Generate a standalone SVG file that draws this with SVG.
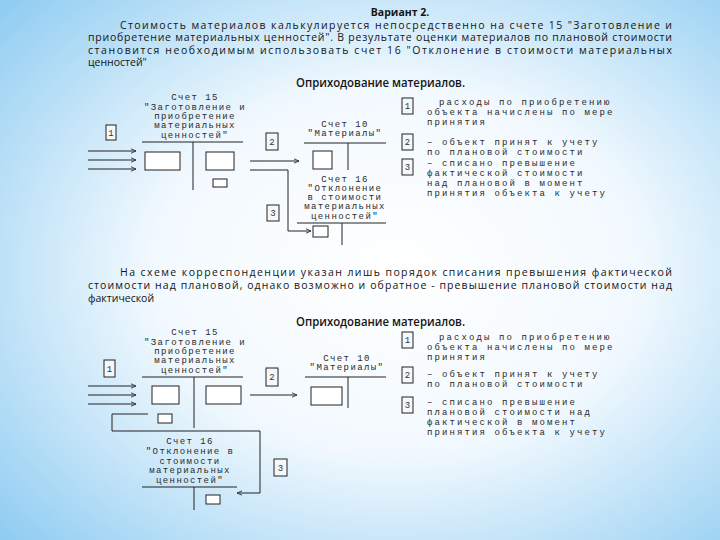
<svg xmlns="http://www.w3.org/2000/svg" width="720" height="540" viewBox="0 0 720 540">
<defs>
<radialGradient id="bg" cx="0.55" cy="0.5" r="0.75">
<stop offset="0" stop-color="#ffffff"/>
<stop offset="0.45" stop-color="#f2f9fe"/>
<stop offset="1" stop-color="#8ccbf1"/>
</radialGradient>
<marker id="arr" viewBox="0 0 6 6" refX="5.5" refY="3" markerWidth="6" markerHeight="6" orient="auto" markerUnits="userSpaceOnUse">
<path d="M0.5,0.8 L5.5,3 L0.5,5.2" fill="none" stroke="#333" stroke-width="0.9"/>
</marker>
<style>
.body{font-family:"Open Sans","Liberation Sans",sans-serif;font-size:10.5px;fill:#151515}
.bold{font-weight:bold}
.head{font-family:"Open Sans","Liberation Sans",sans-serif;font-size:12px;font-weight:600;fill:#151515}
.mono{font-family:"Liberation Mono","DejaVu Sans Mono",monospace;font-size:9px;fill:#2a2a2a;letter-spacing:1.4px}
.mc{text-anchor:middle}
.leg{font-family:"Liberation Mono","DejaVu Sans Mono",monospace;font-size:9px;fill:#2a2a2a;letter-spacing:2.1px}
.num{font-family:"Liberation Mono","DejaVu Sans Mono",monospace;font-size:9px;fill:#333;text-anchor:middle}
.ln{fill:none;stroke:#222;stroke-width:1}
.bx{fill:#ffffff;stroke:#222;stroke-width:1}
.nb{fill:#f4f8fb;stroke:#222;stroke-width:1}
</style>
</defs>
<rect x="0" y="0" width="720" height="540" fill="url(#bg)"/>

<g id="intro">
<text class="body bold" x="400" y="15.5" text-anchor="middle">Вариант 2.</text>
<text class="body" x="120" y="28.5" textLength="552" lengthAdjust="spacing">Стоимость материалов калькулируется непосредственно на счете 15 "Заготовление и</text>
<text class="body" x="88" y="41" textLength="584" lengthAdjust="spacing">приобретение материальных ценностей". В результате оценки материалов по плановой стоимости</text>
<text class="body" x="88" y="53.5" textLength="584" lengthAdjust="spacing">становится необходимым использовать счет 16 "Отклонение в стоимости материальных</text>
<text class="body" x="88" y="66">ценностей"</text>
</g>

<g id="middle-text">
<text class="body" x="120" y="276" textLength="552" lengthAdjust="spacing">На схеме корреспонденции указан лишь порядок списания превышения фактической</text>
<text class="body" x="88" y="289" textLength="584" lengthAdjust="spacing">стоимости над плановой, однако возможно и обратное - превышение плановой стоимости над</text>
<text class="body" x="88" y="301.5">фактической</text>
</g>

<!-- ============ Diagram 1 ============ -->
<g id="d1-title"><text class="head" x="296" y="87" textLength="169" lengthAdjust="spacingAndGlyphs">Оприходование материалов.</text></g>

<g id="d1-acc15">
<text class="mono mc" x="195" y="100">Счет 15</text>
<text class="mono mc" x="195" y="109.5">"Заготовление и</text>
<text class="mono mc" x="195" y="119">приобретение</text>
<text class="mono mc" x="195" y="128">материальных</text>
<text class="mono mc" x="195" y="137.5">ценностей"</text>
<path class="ln" d="M142,142 H243 M193,142 V190"/>
<rect class="bx" x="145" y="152" width="35" height="18"/>
<rect class="bx" x="206" y="152" width="28" height="18"/>
<rect class="bx" x="213" y="179" width="14" height="8"/>
</g>

<g id="d1-acc10">
<text class="mono mc" x="345" y="127">Счет 10</text>
<text class="mono mc" x="345" y="136">"Материалы"</text>
<path class="ln" d="M304,143 H386 M348,143 V170"/>
<rect class="bx" x="313" y="151" width="19" height="18"/>
</g>

<g id="d1-acc16">
<text class="mono mc" x="345" y="182">Счет 16</text>
<text class="mono mc" x="345" y="191">"Отклонение</text>
<text class="mono mc" x="345" y="200">в стоимости</text>
<text class="mono mc" x="345" y="209">материальных</text>
<text class="mono mc" x="345" y="218.5">ценностей"</text>
<path class="ln" d="M297,223 H386 M342,223 V245"/>
<rect class="bx" x="313" y="226" width="15" height="11"/>
</g>

<g id="d1-n1"><rect class="nb" x="106" y="125" width="10" height="15"/><text class="num" x="111" y="135.5">1</text></g>
<g id="d1-n2"><rect class="nb" x="266" y="133" width="12" height="17"/><text class="num" x="272" y="144.5">2</text></g>
<g id="d1-n3"><rect class="nb" x="267" y="205" width="12" height="16"/><text class="num" x="273" y="216">3</text></g>

<g id="d1-connectors">
<path class="ln" d="M88,151 H136" marker-end="url(#arr)"/>
<path class="ln" d="M88,160 H136" marker-end="url(#arr)"/>
<path class="ln" d="M88,169 H136" marker-end="url(#arr)"/>
<path class="ln" d="M250,161 H299" marker-end="url(#arr)"/>
<path class="ln" d="M250,170 H288 V231 H311" marker-end="url(#arr)"/>
</g>

<g id="d1-legend">
<g id="d1-leg1"><rect class="nb" x="402" y="98" width="11" height="16"/><text class="num" x="407.5" y="109">1</text>
<text class="leg" x="439" y="105">расходы по приобретению</text>
<text class="leg" x="427" y="115">объекта начислены по мере</text>
<text class="leg" x="427" y="125">принятия</text></g>
<g id="d1-leg2"><rect class="nb" x="402" y="134" width="11" height="16"/><text class="num" x="407.5" y="145">2</text>
<text class="leg" x="427" y="145">– объект принят к учету</text>
<text class="leg" x="427" y="155">по плановой стоимости</text></g>
<g id="d1-leg3"><rect class="nb" x="402" y="159" width="11" height="16"/><text class="num" x="407.5" y="170">3</text>
<text class="leg" x="427" y="166">– списано превышение</text>
<text class="leg" x="427" y="176">фактической стоимости</text>
<text class="leg" x="427" y="186">над плановой в момент</text>
<text class="leg" x="427" y="196">принятия объекта к учету</text></g>
</g>

<!-- ============ Diagram 2 ============ -->
<g id="d2-title"><text class="head" x="296" y="326" textLength="169" lengthAdjust="spacingAndGlyphs">Оприходование материалов.</text></g>

<g id="d2-acc15">
<text class="mono mc" x="195" y="335">Счет 15</text>
<text class="mono mc" x="195" y="344.5">"Заготовление и</text>
<text class="mono mc" x="195" y="354">приобретение</text>
<text class="mono mc" x="195" y="363">материальных</text>
<text class="mono mc" x="195" y="372.5">ценностей"</text>
<path class="ln" d="M142,377 H243 M194,377 V428"/>
<rect class="bx" x="152" y="386" width="27" height="18"/>
<rect class="bx" x="206" y="386" width="35" height="18"/>
<rect class="bx" x="158" y="414" width="14" height="9"/>
</g>

<g id="d2-acc10">
<text class="mono mc" x="347" y="361">Счет 10</text>
<text class="mono mc" x="347" y="370">"Материалы"</text>
<path class="ln" d="M305,377 H386 M348,377 V408"/>
<rect class="bx" x="311" y="387" width="31" height="18"/>
</g>

<g id="d2-acc16">
<text class="mono mc" x="190" y="444">Счет 16</text>
<text class="mono mc" x="190" y="454">"Отклонение в</text>
<text class="mono mc" x="190" y="463.5">стоимости</text>
<text class="mono mc" x="190" y="473">материальных</text>
<text class="mono mc" x="190" y="482.5">ценностей"</text>
<path class="ln" d="M142,487 H237 M194,487 V510"/>
<rect class="bx" x="206" y="495" width="14" height="9"/>
</g>

<g id="d2-n1"><rect class="nb" x="104" y="360" width="11" height="17"/><text class="num" x="109.5" y="371.5">1</text></g>
<g id="d2-n2"><rect class="nb" x="266" y="368" width="12" height="18"/><text class="num" x="272" y="380">2</text></g>
<g id="d2-n3"><rect class="nb" x="274" y="459" width="13" height="17"/><text class="num" x="280.5" y="470.5">3</text></g>

<g id="d2-connectors">
<path class="ln" d="M88,386 H136" marker-end="url(#arr)"/>
<path class="ln" d="M88,395 H136" marker-end="url(#arr)"/>
<path class="ln" d="M88,404 H136" marker-end="url(#arr)"/>
<path class="ln" d="M250,395 H297" marker-end="url(#arr)"/>
<path class="ln" d="M148,414 H112 V431 H260 V493 H237" marker-end="url(#arr)"/>
</g>

<g id="d2-legend">
<g id="d2-leg1"><rect class="nb" x="402" y="332" width="11" height="16"/><text class="num" x="407.5" y="343">1</text>
<text class="leg" x="439" y="340">расходы по приобретению</text>
<text class="leg" x="427" y="350">объекта начислены по мере</text>
<text class="leg" x="427" y="360">принятия</text></g>
<g id="d2-leg2"><rect class="nb" x="402" y="367" width="11" height="16"/><text class="num" x="407.5" y="378">2</text>
<text class="leg" x="427" y="377">– объект принят к учету</text>
<text class="leg" x="427" y="387">по плановой стоимости</text></g>
<g id="d2-leg3"><rect class="nb" x="402" y="397" width="11" height="16"/><text class="num" x="407.5" y="408">3</text>
<text class="leg" x="427" y="405">– списано превышение</text>
<text class="leg" x="427" y="415">плановой стоимости над</text>
<text class="leg" x="427" y="425">фактической в момент</text>
<text class="leg" x="427" y="435">принятия объекта к учету</text></g>
</g>
</svg>
